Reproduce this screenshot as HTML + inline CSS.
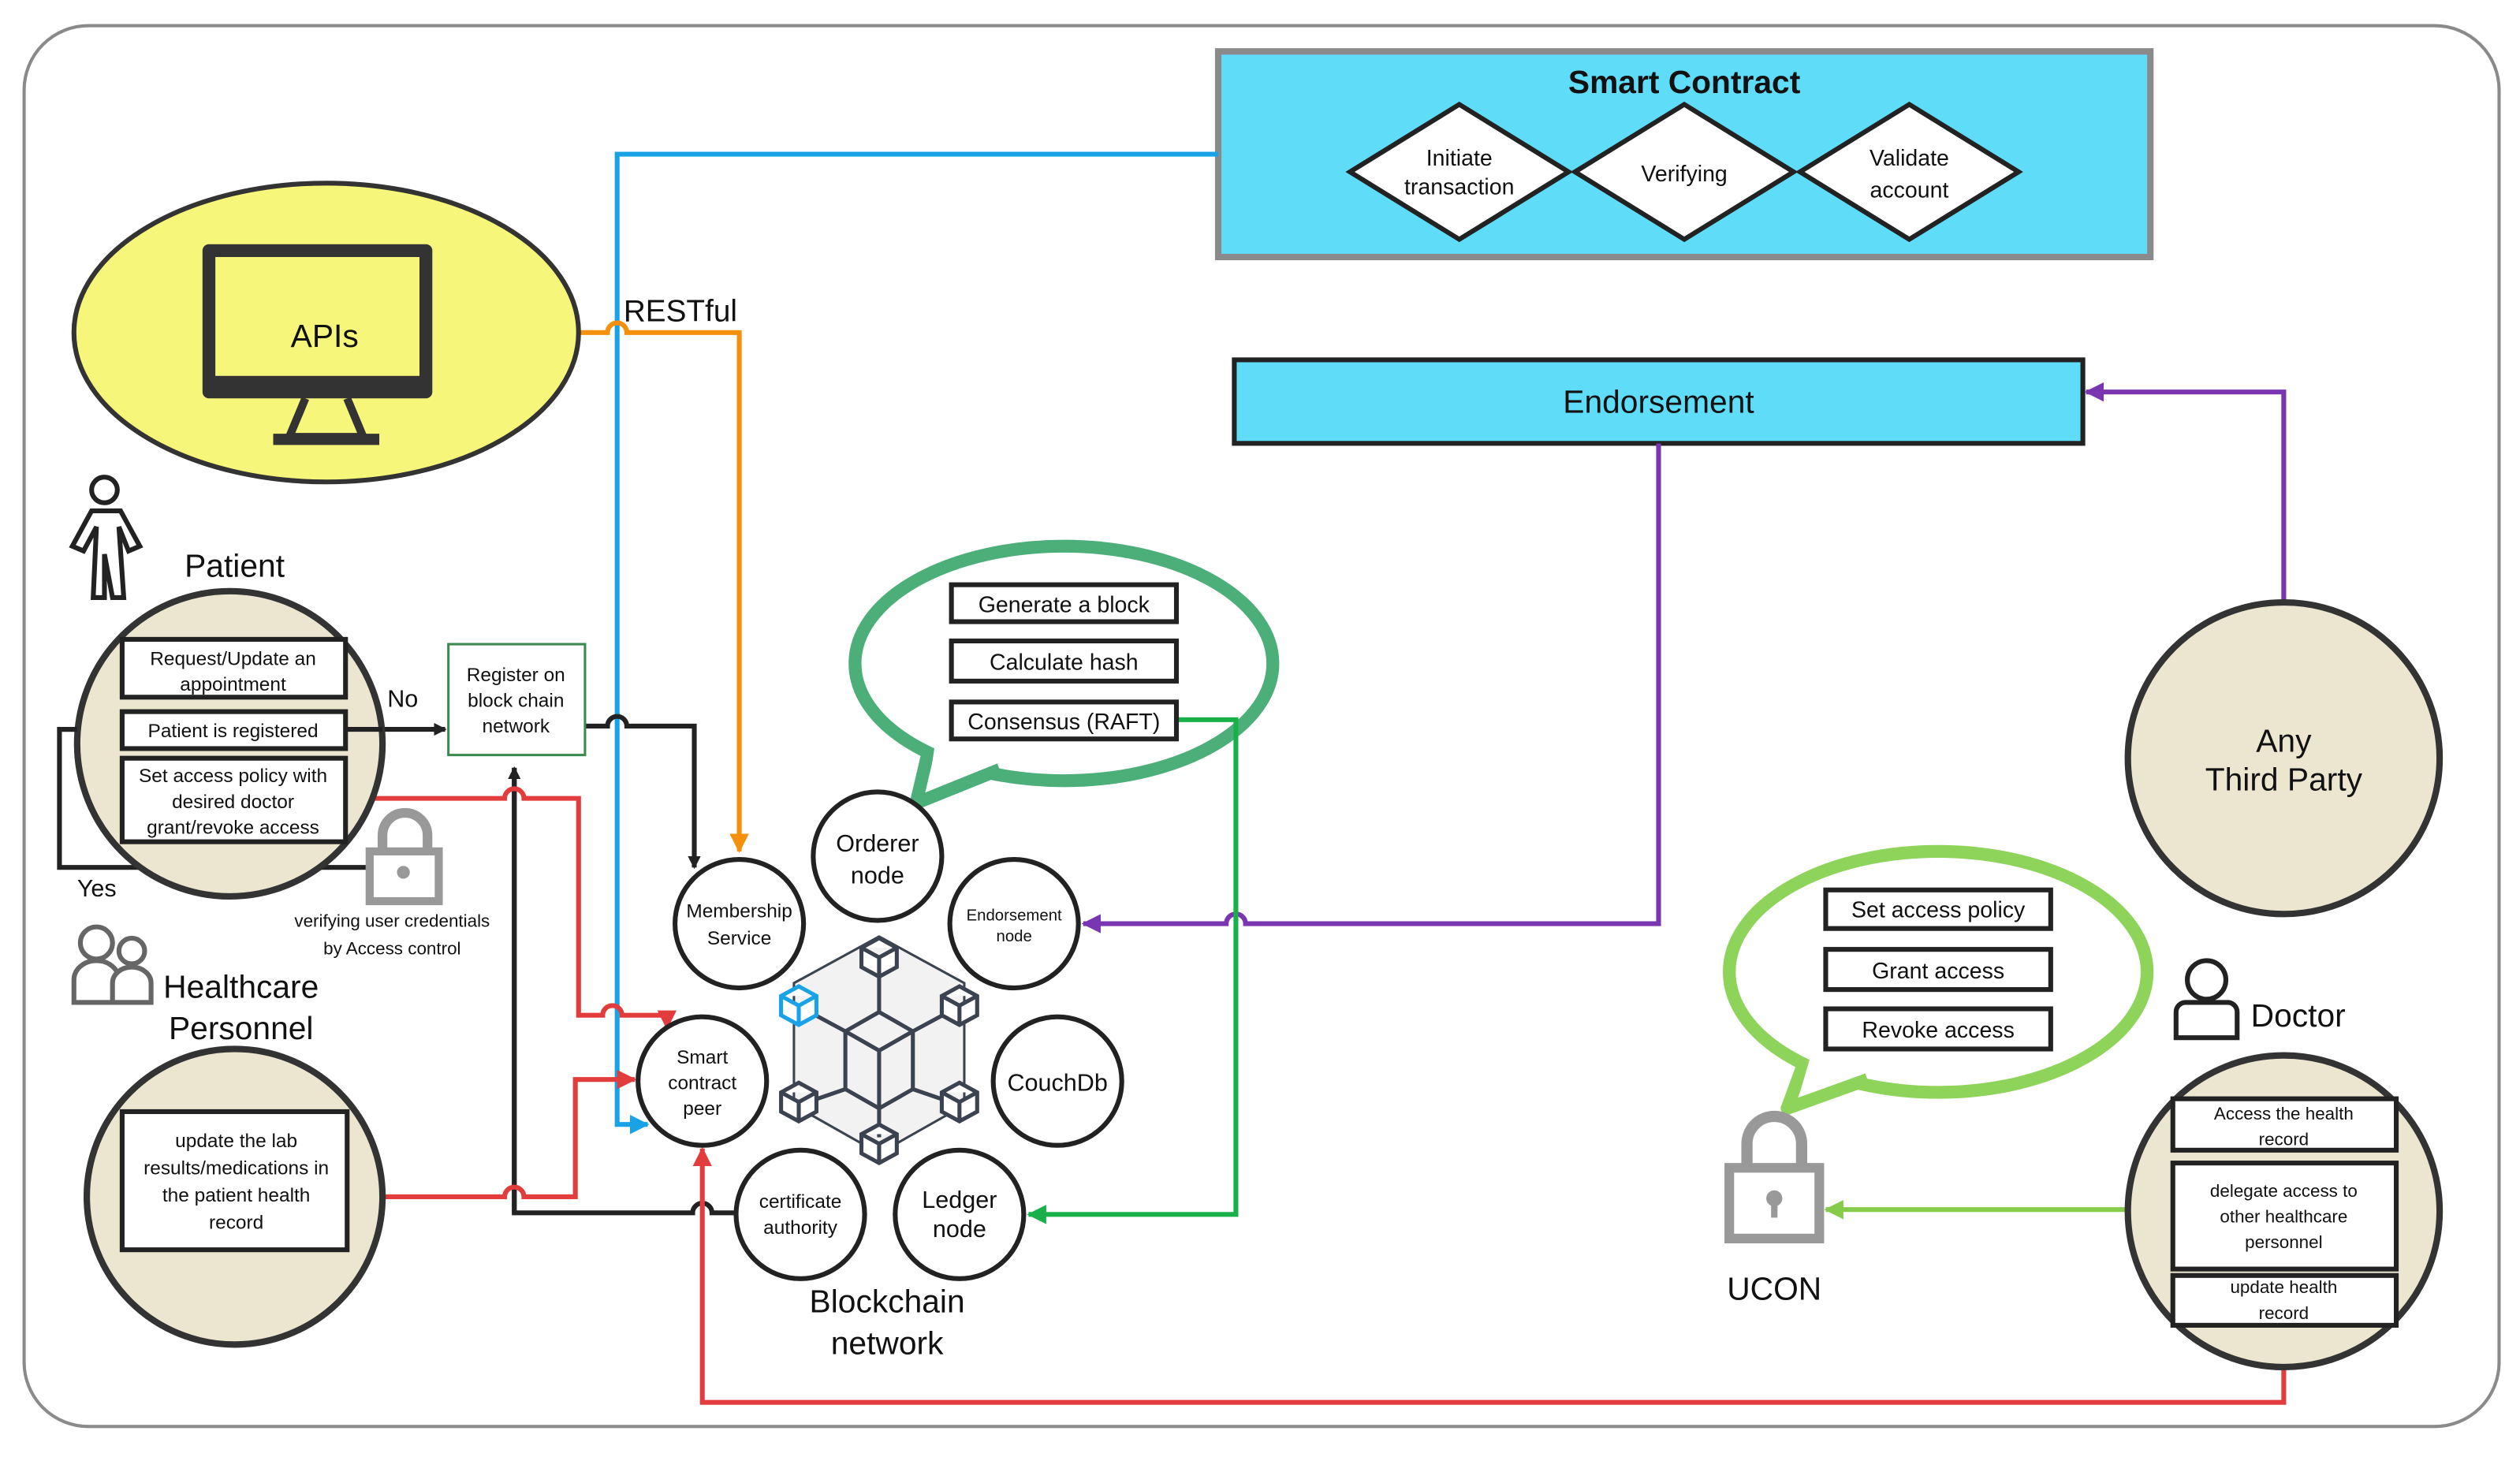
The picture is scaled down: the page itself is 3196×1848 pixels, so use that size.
<!DOCTYPE html>
<html><head><meta charset="utf-8"><style>
html,body{margin:0;padding:0;background:#fff;width:3196px;height:1848px;overflow:hidden}
svg{display:block}
text{font-family:"Liberation Sans",sans-serif;fill:#111}
</style></head><body>
<svg width="3196" height="1848" viewBox="0 0 1568 907" preserveAspectRatio="none" xmlns="http://www.w3.org/2000/svg">
<defs>
<marker id="ak" markerWidth="8" markerHeight="8" refX="7" refY="4" orient="auto" markerUnits="userSpaceOnUse"><path d="M0,0 L8,4 L0,8z" fill="#222"/></marker>
<marker id="ao" markerWidth="12" markerHeight="12" refX="11" refY="6" orient="auto" markerUnits="userSpaceOnUse"><path d="M0,0 L12,6 L0,12z" fill="#f5900f"/></marker>
<marker id="ab" markerWidth="12" markerHeight="12" refX="11" refY="6" orient="auto" markerUnits="userSpaceOnUse"><path d="M0,0 L12,6 L0,12z" fill="#19a3e6"/></marker>
<marker id="ar" markerWidth="12" markerHeight="12" refX="11" refY="6" orient="auto" markerUnits="userSpaceOnUse"><path d="M0,0 L12,6 L0,12z" fill="#e23c3c"/></marker>
<marker id="ap" markerWidth="12" markerHeight="12" refX="11" refY="6" orient="auto" markerUnits="userSpaceOnUse"><path d="M0,0 L12,6 L0,12z" fill="#7a35b0"/></marker>
<marker id="ag" markerWidth="12" markerHeight="12" refX="11" refY="6" orient="auto" markerUnits="userSpaceOnUse"><path d="M0,0 L12,6 L0,12z" fill="#19b04a"/></marker>
<marker id="al" markerWidth="12" markerHeight="12" refX="11" refY="6" orient="auto" markerUnits="userSpaceOnUse"><path d="M0,0 L12,6 L0,12z" fill="#86cc4a"/></marker>
</defs>
<rect x="15" y="16" width="1540" height="872" rx="40" fill="#fff" stroke="#8a8a8a" stroke-width="2"/>

<!-- Smart Contract -->
<rect x="758" y="32" width="580" height="128" fill="#5fdcf8" stroke="#8a8a8a" stroke-width="4"/>
<text x="1048" y="58" font-size="20" font-weight="bold" text-anchor="middle">Smart Contract</text>
<g fill="#fff" stroke="#222" stroke-width="3">
<path d="M840,107 L908,65 L976,107 L908,149z"/>
<path d="M980,107 L1048,65 L1116,107 L1048,149z"/>
<path d="M1120,107 L1188,65 L1256,107 L1188,149z"/>
</g>
<g font-size="14" text-anchor="middle">
<text x="908" y="103">Initiate</text><text x="908" y="121">transaction</text>
<text x="1048" y="113">Verifying</text>
<text x="1188" y="103">Validate</text><text x="1188" y="123">account</text>
</g>

<!-- Endorsement -->
<rect x="768" y="224" width="528" height="52" fill="#5fdcf8" stroke="#222" stroke-width="3"/>
<text x="1032" y="257" font-size="20" text-anchor="middle">Endorsement</text>

<!-- bubbles (behind connectors) -->
<ellipse cx="662" cy="413" rx="130" ry="73" fill="#fff" stroke="#4caf7a" stroke-width="8"/>
<path d="M578,466 L570,500 L622,479" fill="#fff" stroke="#4caf7a" stroke-width="8" stroke-linejoin="round"/>
<path d="M582,462 L578,488 L620,474z" fill="#fff"/>
<ellipse cx="1206" cy="605" rx="130" ry="75" fill="#fff" stroke="#8fd45a" stroke-width="8"/>
<path d="M1123,660 L1112,690 L1162,672" fill="#fff" stroke="#8fd45a" stroke-width="8" stroke-linejoin="round"/>
<path d="M1127,656 L1120,680 L1160,668z" fill="#fff"/>

<!-- connectors -->
<g fill="none" stroke-width="3">
<path d="M758,96 H384 V700 H403" stroke="#19a3e6" marker-end="url(#ab)"/>
<path d="M360,207 H378 a6,6 0 0 1 12,0 H460 V530" stroke="#f5900f" marker-end="url(#ao)"/>
<path d="M215,454 H277" stroke="#222" marker-end="url(#ak)"/>
<path d="M364,452 H378 a6,6 0 0 1 12,0 H432 V540" stroke="#222" marker-end="url(#ak)"/>
<path d="M76,454 H37 V540 H238" stroke="#222" marker-end="url(#ak)"/>
<path d="M320,478 V755 H431 a6,6 0 0 1 12,0 H460" stroke="#222"/>
<path d="M320,755 V478" stroke="#222" marker-end="url(#ak)"/>
<path d="M215,497 H314 a6,6 0 0 1 12,0 H360 V632 H375 a6,6 0 0 1 12,0 H415 V640" stroke="#e23c3c" marker-end="url(#ar)"/>
<path d="M238,745 H314 a6,6 0 0 1 12,0 H358 V672 H395" stroke="#e23c3c" marker-end="url(#ar)"/>
<path d="M1421,851 V873 H437 V715" stroke="#e23c3c" marker-end="url(#ar)"/>
<path d="M1032,276 V575 H775 a6,6 0 0 0 -12,0 H674" stroke="#7a35b0" marker-end="url(#ap)"/>
<path d="M1421,375 V244 H1298" stroke="#7a35b0" marker-end="url(#ap)"/>
<path d="M732,448 H769 V756 H640" stroke="#19b04a" marker-end="url(#ag)"/>
<path d="M1323,753 H1136" stroke="#86cc4a" marker-end="url(#al)"/>
</g>
<text x="388" y="200" font-size="19">RESTful</text>
<text x="241" y="440" font-size="15">No</text>
<text x="48" y="558" font-size="15">Yes</text>

<!-- APIs -->
<ellipse cx="203" cy="207" rx="157" ry="93" fill="#f6f67a" stroke="#333" stroke-width="3"/>
<rect x="126" y="152" width="143" height="96" rx="4" fill="#333"/>
<rect x="134" y="160" width="127" height="74" fill="#f6f67a"/>
<path d="M190,248 L180,272 H226 L216,248" fill="none" stroke="#333" stroke-width="5"/>
<rect x="170" y="270" width="66" height="7" fill="#333"/>
<text x="202" y="216" font-size="20" text-anchor="middle">APIs</text>

<!-- Patient -->
<g fill="none" stroke="#222" stroke-width="3">
<circle cx="65" cy="305" r="8"/>
<path d="M57,318 L45,340 L52,343 L60,328 L58,372 L65,372 L65,345 L70,372 L77,372 L74,328 L80,343 L87,340 L75,318z"/>
</g>
<text x="146" y="359" font-size="20" text-anchor="middle">Patient</text>
<circle cx="143" cy="463" r="95" fill="#ece6d1" stroke="#333" stroke-width="4"/>
<path d="M48,454 H37 M238,454 H215" stroke="#222" stroke-width="3"/>
<g fill="#fff" stroke="#222" stroke-width="3">
<rect x="76" y="398" width="139" height="36"/><rect x="76" y="443" width="139" height="23"/><rect x="76" y="472" width="139" height="52"/>
</g>
<g font-size="12" text-anchor="middle">
<text x="145" y="414">Request/Update an</text><text x="145" y="430">appointment</text>
<text x="145" y="459">Patient is registered</text>
<text x="145" y="487">Set access policy with</text><text x="145" y="503">desired doctor</text><text x="145" y="519">grant/revoke access</text>
</g>
<rect x="279" y="401" width="85" height="69" fill="#fff" stroke="#3a8a50" stroke-width="1.5"/>
<g font-size="12" text-anchor="middle"><text x="321" y="424">Register on</text><text x="321" y="440">block chain</text><text x="321" y="456">network</text></g>
<!-- lock -->
<path d="M238,532 V520 a14,14 0 0 1 28,0 V532" fill="none" stroke="#999" stroke-width="6"/>
<rect x="230" y="530" width="43" height="31" fill="#fff" stroke="#999" stroke-width="5"/>
<circle cx="251" cy="543" r="4" fill="#999"/>
<g font-size="11" text-anchor="middle"><text x="244" y="577">verifying user credentials</text><text x="244" y="594">by Access control</text></g>

<!-- Healthcare -->
<g fill="#fff" stroke="#666" stroke-width="3">
<circle cx="60" cy="587" r="10"/><circle cx="82" cy="592" r="8"/>
<path d="M46,624 V610 a14,12 0 0 1 28,0 V624z"/><path d="M70,624 V612 a12,10 0 0 1 24,0 V624z"/>
</g>
<text x="150" y="621" font-size="20" text-anchor="middle">Healthcare</text>
<text x="150" y="647" font-size="20" text-anchor="middle">Personnel</text>
<circle cx="146" cy="745" r="92" fill="#ece6d1" stroke="#333" stroke-width="4"/>
<rect x="76" y="692" width="140" height="86" fill="#fff" stroke="#222" stroke-width="3"/>
<g font-size="12" text-anchor="middle"><text x="147" y="714">update the lab</text><text x="147" y="731">results/medications in</text><text x="147" y="748">the patient health</text><text x="147" y="765">record</text></g>

<!-- Consensus boxes -->
<g fill="#fff" stroke="#222" stroke-width="3">
<rect x="592" y="364" width="140" height="23"/><rect x="592" y="399" width="140" height="25"/><rect x="592" y="437" width="140" height="23"/>
</g>
<g font-size="14" text-anchor="middle"><text x="662" y="381">Generate a block</text><text x="662" y="417">Calculate hash</text><text x="662" y="454">Consensus (RAFT)</text></g>

<!-- blockchain nodes -->
<g fill="#fff" stroke="#222" stroke-width="3">
<circle cx="460" cy="575" r="40"/><circle cx="546" cy="533" r="40"/><circle cx="631" cy="575" r="40"/>
<circle cx="437" cy="673" r="40"/><circle cx="658" cy="673" r="40"/><circle cx="498" cy="756" r="40"/><circle cx="597" cy="756" r="40"/>
</g>
<g text-anchor="middle">
<text x="460" y="571" font-size="12">Membership</text><text x="460" y="588" font-size="12">Service</text>
<text x="546" y="530" font-size="15">Orderer</text><text x="546" y="550" font-size="15">node</text>
<text x="631" y="573" font-size="10">Endorsement</text><text x="631" y="586" font-size="10">node</text>
<text x="437" y="662" font-size="12">Smart</text><text x="437" y="678" font-size="12">contract</text><text x="437" y="694" font-size="12">peer</text>
<text x="658" y="679" font-size="15">CouchDb</text>
<text x="498" y="752" font-size="12">certificate</text><text x="498" y="768" font-size="12">authority</text>
<text x="597" y="752" font-size="15">Ledger</text><text x="597" y="770" font-size="15">node</text>
<text x="552" y="817" font-size="20">Blockchain</text><text x="552" y="843" font-size="20">network</text>
</g>
<!-- cube network -->
<g fill="none" stroke="#3b4350" stroke-width="2.5">
<path d="M547,583 L600,612 L600,688 L547,718 L494,688 L494,612z" fill="#f2f2f2" stroke-width="1.5"/>
<path d="M547,630 L568,642 L547,654 L526,642z M526,642 V678 L547,690 L568,678 V642 M547,654 V690 M547,605 V630 M526,678 L497,688 M568,678 L597,688 M526,642 L500,628 M568,642 L594,628 M547,690 V708"/>
<g fill="#fff"><path d="M547,584 l11,6 v12 l-11,6 l-11,-6 v-12z M536,590 l11,6 l11,-6 M547,596 v12"/>
<path d="M597,614 l11,6 v12 l-11,6 l-11,-6 v-12z M586,620 l11,6 l11,-6 M597,626 v12"/>
<path d="M497,674 l11,6 v12 l-11,6 l-11,-6 v-12z M486,680 l11,6 l11,-6 M497,686 v12"/>
<path d="M597,674 l11,6 v12 l-11,6 l-11,-6 v-12z M586,680 l11,6 l11,-6 M597,686 v12"/>
<path d="M547,700 l11,6 v12 l-11,6 l-11,-6 v-12z M536,706 l11,6 l11,-6 M547,712 v12"/></g>
<path d="M497,614 l11,6 v12 l-11,6 l-11,-6 v-12z M486,620 l11,6 l11,-6 M497,626 v12" stroke="#19a3e6" fill="#fff"/>
</g>

<!-- Third party -->
<circle cx="1421" cy="472" r="97" fill="#ece6d1" stroke="#333" stroke-width="4"/>
<text x="1421" y="468" font-size="20" text-anchor="middle">Any</text>
<text x="1421" y="492" font-size="20" text-anchor="middle">Third Party</text>

<!-- UCON boxes -->
<g fill="#fff" stroke="#222" stroke-width="3">
<rect x="1136" y="554" width="140" height="24"/><rect x="1136" y="591" width="140" height="25"/><rect x="1136" y="628" width="140" height="25"/>
</g>
<g font-size="14" text-anchor="middle"><text x="1206" y="571">Set access policy</text><text x="1206" y="609">Grant access</text><text x="1206" y="646">Revoke access</text></g>
<path d="M1087,730 V712 a17,17 0 0 1 34,0 V730" fill="none" stroke="#999" stroke-width="7"/>
<rect x="1076" y="727" width="56" height="44" fill="#fff" stroke="#999" stroke-width="6"/>
<circle cx="1104" cy="746" r="5" fill="#999"/><rect x="1102" y="748" width="4" height="10" fill="#999"/>
<text x="1104" y="809" font-size="20" text-anchor="middle">UCON</text>

<!-- Doctor -->
<g fill="#fff" stroke="#222" stroke-width="3"><circle cx="1373" cy="610" r="12"/><path d="M1354,646 V630 a6,6 0 0 1 6,-6 H1386 a6,6 0 0 1 6,6 V646z"/></g>
<text x="1430" y="639" font-size="20" text-anchor="middle">Doctor</text>
<circle cx="1421" cy="754" r="97" fill="#ece6d1" stroke="#333" stroke-width="4"/>
<g fill="#fff" stroke="#222" stroke-width="3">
<rect x="1352" y="684" width="139" height="32"/><rect x="1352" y="724" width="139" height="66"/><rect x="1352" y="794" width="139" height="31"/>
</g>
<g font-size="11" text-anchor="middle">
<text x="1421" y="697">Access the health</text><text x="1421" y="713">record</text>
<text x="1421" y="745">delegate access to</text><text x="1421" y="761">other healthcare</text><text x="1421" y="777">personnel</text>
<text x="1421" y="805">update health</text><text x="1421" y="821">record</text>
</g>
</svg>
</body></html>
